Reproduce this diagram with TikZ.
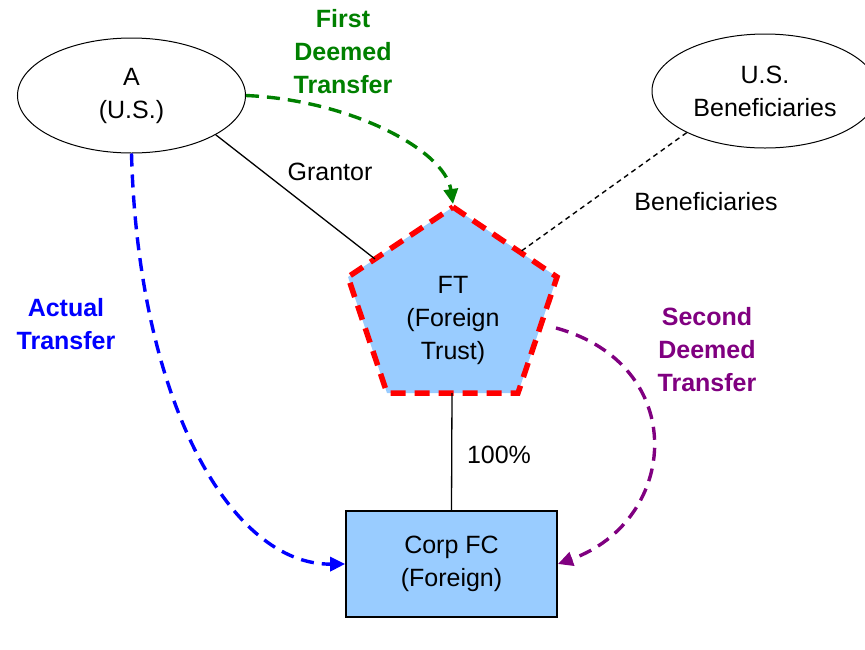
\documentclass[tikz,border=0pt]{standalone}
\usepackage{fontspec}
\setmainfont{Liberation Sans}
\usetikzlibrary{shapes.geometric,arrows.meta}
\definecolor{fillblue}{RGB}{153,204,255}
\definecolor{dgreen}{RGB}{0,128,0}
\definecolor{dpurple}{RGB}{128,0,128}
\begin{document}
\begin{tikzpicture}[x=1pt,y=-1pt,
  font=\fontsize{25}{33}\selectfont,
  ell/.style={ellipse, draw, line width=1pt, minimum width=228pt, minimum height=115pt, inner sep=0pt, align=center},
  lbl/.style={align=center, inner sep=0pt},
  blbl/.style={align=center, inner sep=0pt, font=\fontsize{25}{33}\selectfont\bfseries},
  darrow/.style={line width=3.4pt, dash pattern=on 13pt off 8pt, -{Triangle[length=15pt,width=14pt]}},
  pent/.style={fill=fillblue, draw=red, line width=5.5pt, dash pattern=on 15pt off 9pt},
  boxnode/.style={draw, line width=1.8pt, fill=fillblue, minimum width=211pt, minimum height=106pt, align=center, inner sep=0pt}
]
\useasboundingbox (0,0) rectangle (865,649);

% ellipses
\node[ell] (A) at (131.5,95.5) {A\\(U.S.)};
\node[ell, minimum width=226pt, minimum height=114pt] (B) at (765,91) {U.S.\\Beneficiaries};

% pentagon (foreign trust)
\filldraw[pent] (453,207) -- (557,277) -- (518,393) -- (387,393) -- (348,277) -- cycle;
\node[lbl] (FT) at (453,320) {FT\\(Foreign\\Trust)};
\coordinate (FTtop) at (453,204);
\coordinate (FTgr) at (375,259);
\coordinate (FTben) at (520,252);
\coordinate (FTbot) at (452,393);
\coordinate (FTright) at (556,328);

% corporation box
\node[boxnode] (FC) at (451.5,564) {Corp FC\\(Foreign)};

% solid / dotted relations
\draw[line width=1.3pt] (A.-25.7) -- (FTgr);
\draw[line width=1.4pt, dash pattern=on 5pt off 4pt] (B.-152) -- (FTben);
\draw[line width=1.3pt] (FTbot) -- (FC.north);

% transfers
\draw[darrow, dgreen] (A.east) .. controls (350,100) and (445,150) .. (FTtop);
\draw[darrow, blue] (A.south) .. controls (138,400) and (230,565) .. (FC.west);
\draw[darrow, dpurple] (FTright) .. controls (690,365) and (680,520) .. (FC.east);

% labels
\node[blbl, text=dgreen] (L1) at (343,52) {First\\Deemed\\Transfer};
\node[blbl, text=blue] (L2) at (66,324) {Actual\\Transfer};
\node[blbl, text=dpurple] (L3) at (707,350) {Second\\Deemed\\Transfer};
\node[lbl] (g) at (330,172) {Grantor};
\node[lbl] (b) at (706,202) {Beneficiaries};
\node[lbl] (p) at (499,455) {100\%};
\end{tikzpicture}
\end{document}
